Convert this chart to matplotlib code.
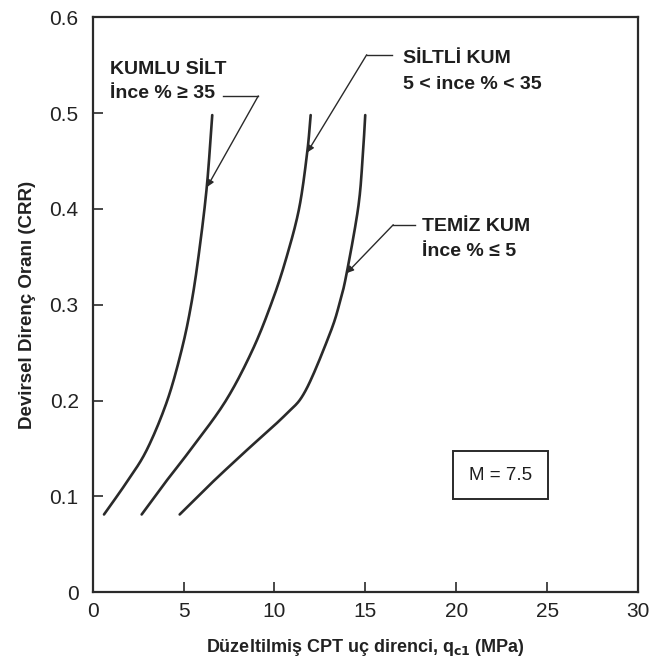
import matplotlib
matplotlib.use("Agg")
import matplotlib.pyplot as plt
from matplotlib.patches import Rectangle
import numpy as np

plt.rcParams['font.family'] = ['Liberation Sans', 'DejaVu Sans']

# Curve data (q_c1 in MPa, CRR)
kumlu_q = [0.63, 1.85, 2.97, 4.09, 4.90, 5.43, 5.85, 6.28, 6.58]
kumlu_crr = [0.081, 0.114, 0.148, 0.199, 0.253, 0.301, 0.354, 0.423, 0.498]

siltli_q = [2.70, 3.98, 5.36, 7.30, 8.80, 9.90, 10.67, 11.36, 11.80, 11.99]
siltli_crr = [0.081, 0.114, 0.148, 0.199, 0.253, 0.305, 0.350, 0.401, 0.459, 0.498]

temiz_q = [4.79, 6.55, 8.47, 10.60, 11.70, 13.05, 13.60, 13.97, 14.60, 14.84, 14.99]
temiz_crr = [0.081, 0.114, 0.148, 0.185, 0.210, 0.270, 0.303, 0.333, 0.401, 0.451, 0.498]

x_ticks = [0, 5, 10, 15, 20, 25, 30]
y_ticks = [0, 0.1, 0.2, 0.3, 0.4, 0.5, 0.6]
y_ticklabels = ['0', '0.1', '0.2', '0.3', '0.4', '0.5', '0.6']


def catmull_rom(xs, ys, n=20):
    """Smooth drawing path through the given points (uniform Catmull-Rom)."""
    x = np.asarray(xs, float)
    y = np.asarray(ys, float) * 50.0
    P = np.column_stack([x, y])
    P = np.vstack([2 * P[0] - P[1], P, 2 * P[-1] - P[-2]])
    out = []
    t = np.linspace(0, 1, n, endpoint=False)[:, None]
    for i in range(1, len(P) - 2):
        p0, p1, p2, p3 = P[i - 1], P[i], P[i + 1], P[i + 2]
        seg = 0.5 * ((2 * p1) + (-p0 + p2) * t + (2 * p0 - 5 * p1 + 4 * p2 - p3) * t ** 2
                     + (-p0 + 3 * p1 - 3 * p2 + p3) * t ** 3)
        out.append(seg)
    out.append(P[-2][None, :])
    out = np.vstack(out)
    return out[:, 0], out[:, 1] / 50.0


fig = plt.figure(figsize=(6.54, 6.69), dpi=100)
ax = fig.add_axes([0.1415, 0.115, 0.8345, 0.859])

lc = '#2a2a2a'
for q, c in [(kumlu_q, kumlu_crr), (siltli_q, siltli_crr), (temiz_q, temiz_crr)]:
    sx, sy = catmull_rom(q, c)
    ax.plot(sx, sy, color=lc, lw=1.9, solid_capstyle='round', solid_joinstyle='round')

ax.set_xlim(0, 30)
ax.set_ylim(0, 0.6)
ax.set_xticks(x_ticks)
ax.set_xticklabels([str(v) for v in x_ticks])
ax.set_yticks(y_ticks)
ax.set_yticklabels(y_ticklabels)
ax.tick_params(direction='in', length=7, width=1.2, labelsize=15, color=lc, labelcolor='#222222')
ax.tick_params(axis='y', pad=10)
ax.tick_params(axis='x', pad=7)
for s in ax.spines.values():
    s.set_linewidth(1.6)
    s.set_color(lc)

ax.set_ylabel('Devirsel Direnç Oranı (CRR)', fontsize=13.5, fontweight='bold', color='#222222', labelpad=10)
ax.set_xlabel('Düzeltilmiş CPT uç direnci, q$_{\\mathbf{c1}}$ (MPa)', fontsize=13, fontweight='bold',
              color='#222222', labelpad=12)

tfs = 14
tc = '#1e1e1e'
# KUMLU SILT
ax.text(0.96, 0.546, 'KUMLU SİLT', fontsize=tfs, fontweight='bold', color=tc, va='center', ha='left')
ax.text(0.96, 0.521, 'İnce % ≥ 35', fontsize=tfs, fontweight='bold', color=tc, va='center', ha='left')
ax.plot([7.17, 9.11], [0.518, 0.518], color=lc, lw=1.0)
ax.annotate('', xy=(6.30, 0.423), xytext=(9.11, 0.518),
            arrowprops=dict(arrowstyle='-|>', color=lc, lw=1.0, mutation_scale=10, shrinkA=0, shrinkB=0))

# SILTLI KUM
ax.text(17.04, 0.557, 'SİLTLİ KUM', fontsize=tfs, fontweight='bold', color=tc, va='center', ha='left')
ax.text(17.04, 0.530, '5 < ince % < 35', fontsize=tfs, fontweight='bold', color=tc, va='center', ha='left')
ax.plot([15.07, 16.44], [0.561, 0.561], color=lc, lw=1.0)
ax.annotate('', xy=(11.8, 0.459), xytext=(15.07, 0.561),
            arrowprops=dict(arrowstyle='-|>', color=lc, lw=1.0, mutation_scale=10, shrinkA=0, shrinkB=0))

# TEMIZ KUM
ax.text(18.09, 0.382, 'TEMİZ KUM', fontsize=tfs, fontweight='bold', color=tc, va='center', ha='left')
ax.text(18.09, 0.356, 'İnce % ≤ 5', fontsize=tfs, fontweight='bold', color=tc, va='center', ha='left')
ax.plot([16.53, 17.72], [0.3835, 0.3835], color=lc, lw=1.0)
ax.annotate('', xy=(13.97, 0.333), xytext=(16.53, 0.3835),
            arrowprops=dict(arrowstyle='-|>', color=lc, lw=1.0, mutation_scale=10, shrinkA=0, shrinkB=0))

# M = 7.5 box
ax.add_patch(Rectangle((19.79, 0.0972), 25.05 - 19.79, 0.1476 - 0.0972, fill=False, lw=1.4, edgecolor=lc))
ax.text(22.42, 0.122, 'M = 7.5', fontsize=13.5, color=tc, ha='center', va='center')

fig.savefig('out.png', dpi=100)
